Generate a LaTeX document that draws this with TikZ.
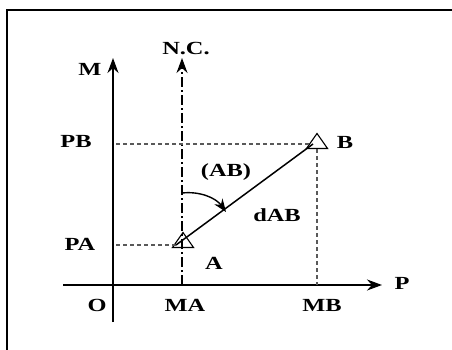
\documentclass[tikz,border=0pt]{standalone}
\usepackage{fontspec}
\setmainfont{Liberation Serif}
\usetikzlibrary{arrows.meta,positioning,calc,shapes.geometric}
\newcommand{\widetext}[1]{\scalebox{1.32}[1]{#1}}

\begin{document}
\begin{tikzpicture}[x=1pt, y=-1pt,
  lbl/.style={font=\fontsize{18.5}{21}\selectfont\bfseries, inner sep=1pt},
  axis/.style={line width=1.5pt, -{Stealth[length=15pt, width=11pt]}},
  ncaxis/.style={line width=1.3pt, dash pattern=on 10pt off 3pt on 2pt off 3pt, -{Stealth[length=15pt, width=11pt]}},
  guide/.style={line width=1.3pt, dash pattern=on 4pt off 3pt, gray!70!black},
  stn/.style={isosceles triangle, shape border rotate=90, isosceles triangle apex angle=70, draw, line width=1.1pt, minimum height=15pt, inner sep=0pt},
  turn/.style={line width=1.4pt, -{Stealth[length=13pt, width=10pt]}}
]
\useasboundingbox (0,0) rectangle (452,350);
\fill[white] (0,0) rectangle (452,350);
\draw[line width=2pt] (7,352) -- (7,10) -- (455,10);

% axes
\coordinate (O) at (113,285);
\coordinate (mtop) at (113,58);
\coordinate (mbot) at (113,322);
\coordinate (pleft) at (63,285);
\coordinate (pright) at (382,285);
\coordinate (ncbot) at (182,285);
\coordinate (nctop) at (182,58);
\draw[axis] (mbot) -- (mtop);
\draw[axis] (pleft) -- (pright);
\draw[ncaxis] (ncbot) -- (nctop);

% stations
\node[stn] (A) at (183,242) {};
\node[stn] (B) at (317,143) {};
\coordinate (pa) at (116,245);
\coordinate (pb) at (116,144);
\coordinate (mb) at (317,285);
\draw[guide] (pa) -- (A.west |- pa);
\draw[guide] (pb) -- (B.west |- pb);
\draw[guide] (B.south) -- (mb);
\draw[line width=1.5pt] (176,245) -- (313,144);

% angle
\coordinate (arcstart) at (182,193);
\coordinate (arcend) at (226,212);
\draw[turn] (arcstart) .. controls (200,191) and (216,198) .. (arcend);

% labels
\node[lbl] (lM) at (90,69) {\widetext{M}};
\node[lbl] (lNC) at (186,49) {\widetext{N.C.}};
\node[lbl] (lP) at (402,283) {\widetext{P}};
\node[lbl] (lO) at (97,305) {\widetext{O}};
\node[lbl] (lMA) at (185,305) {\widetext{MA}};
\node[lbl] (lMB) at (322,305) {\widetext{MB}};
\node[lbl] (lPB) at (76,141) {\widetext{PB}};
\node[lbl] (lPA) at (80,244) {\widetext{PA}};
\node[lbl] (lA) at (214,263) {\widetext{A}};
\node[lbl] (lB) at (345,142) {\widetext{B}};
\node[lbl] (lAB) at (226,172) {\widetext{(AB)}};
\node[lbl] (ldAB) at (277,215) {\widetext{dAB}};

\end{tikzpicture}
\end{document}
